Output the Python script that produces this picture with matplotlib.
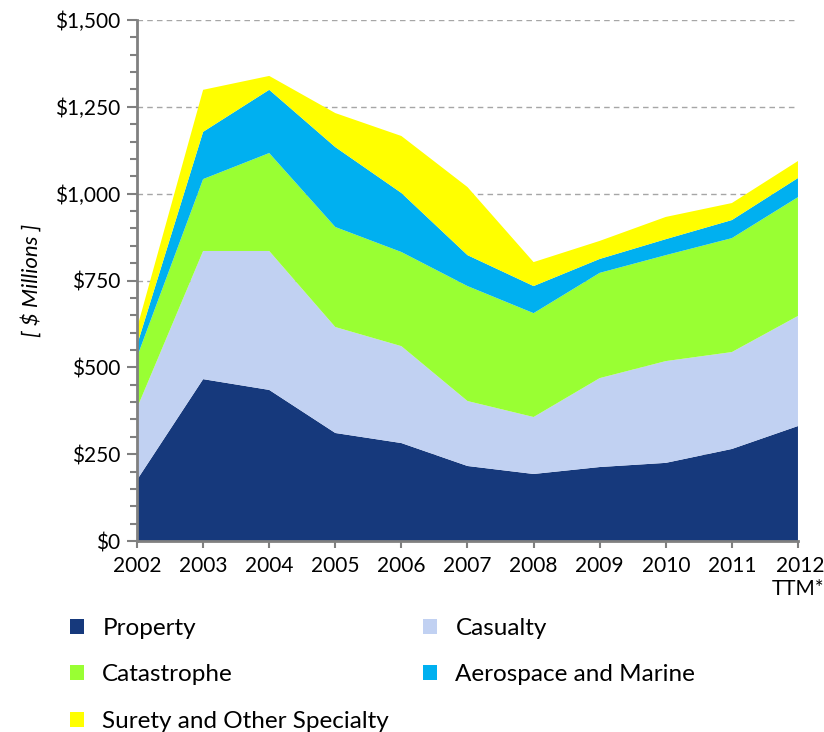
import matplotlib.pyplot as plt
from matplotlib.ticker import MultipleLocator, FuncFormatter
from matplotlib.patches import Patch

plt.rcParams['font.family'] = ['Lato', 'DejaVu Sans']

years = ['2002', '2003', '2004', '2005', '2006', '2007', '2008', '2009', '2010', '2011', '2012']
property_ = [176, 466, 435, 311, 282, 216, 193, 213, 225, 265, 331]
casualty = [207, 369, 400, 305, 279, 187, 164, 256, 293, 279, 317]
catastrophe = [147, 207, 282, 288, 271, 331, 299, 303, 305, 328, 342]
aerospace = [34, 136, 182, 230, 170, 89, 78, 40, 46, 52, 55]
surety = [49, 121, 40, 98, 164, 196, 69, 52, 64, 49, 49]

names = ['Property', 'Casualty', 'Catastrophe', 'Aerospace and Marine', 'Surety and Other Specialty']
colors = ['#16397C', '#C1D1F2', '#99FF33', '#00B0F0', '#FFFF00']

fig = plt.figure(figsize=(8.24, 7.32), dpi=100)
ax = fig.add_axes([0.1663, 0.2609, 0.8021, 0.7118])

x = list(range(len(years)))
ax.stackplot(x, property_, casualty, catastrophe, aerospace, surety,
             colors=colors, linewidth=0, zorder=2)

ax.set_xlim(0, len(years) - 1)
ax.set_ylim(0, 1500)
ax.yaxis.set_major_locator(MultipleLocator(250))
ax.yaxis.set_minor_locator(MultipleLocator(50))
ax.yaxis.set_major_formatter(FuncFormatter(lambda v, p: '${:,.0f}'.format(v)))
ax.set_xticks(x)
labels = years[:-1] + ['2012\nTTM*']
ax.set_xticklabels(labels, fontsize=15)
for lbl in ax.get_xticklabels():
    lbl.set_multialignment('right')
ax.tick_params(axis='y', labelsize=15, color='#808080', length=7, width=1.5, pad=5)
ax.tick_params(axis='y', which='minor', color='#808080', length=5, width=1.5)
ax.tick_params(axis='x', color='#808080', length=5, width=1.5, pad=6)

ax.grid(axis='y', which='major', linestyle=(0, (4, 3)), color='#A6A6A6', linewidth=1, zorder=1)
ax.set_axisbelow(True)
for s in ['top', 'right']:
    ax.spines[s].set_visible(False)
for s in ['left', 'bottom']:
    ax.spines[s].set_color('#808080')
    ax.spines[s].set_linewidth(2)
    ax.spines[s].set_zorder(3)

ax.set_ylabel('[ $ Millions ]', fontsize=16, style='italic', labelpad=10)

handles = [Patch(facecolor=c, edgecolor='none') for c in colors]
order = [0, 2, 4, 1, 3]
fig.legend([handles[i] for i in order], [names[i] for i in order],
           loc='upper left', bbox_to_anchor=(0.085, 0.156), ncol=2,
           frameon=False, fontsize=17.5, handlelength=0.58, handleheight=0.58,
           handletextpad=0.75, columnspacing=1.4, labelspacing=1.05,
           borderaxespad=0, borderpad=0)

fig.savefig('out.png', dpi=100)
